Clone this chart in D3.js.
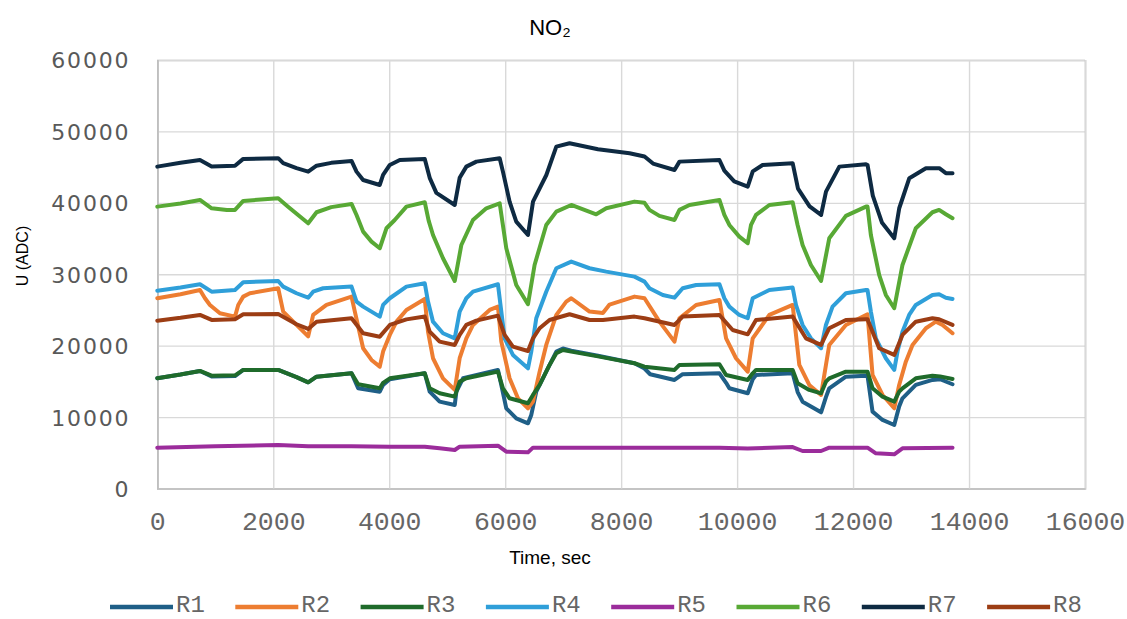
<!DOCTYPE html>
<html><head><meta charset="utf-8">
<script src="https://cdn.jsdelivr.net/npm/d3@7"></script>
<style>html,body{margin:0;padding:0;background:#fff;}svg{display:block;}</style>
</head><body>
<svg id="chart" width="1127" height="619"></svg>
<script>
// ---- data (time in s, value in ADC) ----
const seriesNames = ["R1","R2","R3","R4","R5","R6","R7","R8"];
const xTicks = [0,2000,4000,6000,8000,10000,12000,14000,16000];
const yTicks = [0,10000,20000,30000,40000,50000,60000];

const r1 = [[0,15430],[400,15950],[736,16460],[937,15700],[1340,15750],[1482,16600],[2085,16600],[2401,15600],[2602,14870],[2747,15660],[3350,16130],[3464,14030],[3837,13560],[3894,14500],[4010,15300],[4613,16130],[4698,13560],[4870,12160],[5130,11700],[5158,13560],[5273,15430],[5875,16600],[5933,14500],[6019,11230],[6191,9830],[6393,9130],[6450,10300],[6536,13560],[6708,16360],[6882,19170],[6996,19600],[7140,19300],[7600,18600],[8230,17540],[8403,16800],[8500,16000],[8920,15200],[9061,16000],[9695,16130],[9810,14800],[9866,14030],[10183,13330],[10269,15300],[10326,15900],[10958,16130],[11044,13500],[11129,12160],[11448,10670],[11532,12800],[11589,14030],[11876,15660],[12223,15800],[12249,15800],[12336,10760],[12508,9600],[12710,8890],[12795,11500],[12852,12630],[13082,14500],[13369,15200],[13500,15300],[13715,14600]];
const r2 = [[0,26640],[400,27200],[736,27800],[822,26640],[908,25700],[1080,24540],[1340,24070],[1396,25700],[1482,26870],[1597,27340],[2085,28040],[2171,24770],[2401,22900],[2602,21300],[2688,24300],[2918,25700],[3350,26870],[3407,24770],[3550,19640],[3694,18000],[3837,17060],[3894,19170],[4010,21500],[4125,23360],[4297,25000],[4613,26540],[4669,21960],[4755,18240],[4927,15430],[5130,13800],[5215,18240],[5330,21030],[5445,22900],[5732,25000],[5875,25470],[5933,20560],[6076,15430],[6220,12630],[6393,11230],[6479,12160],[6594,16360],[6708,20100],[6882,24300],[7053,26170],[7140,26640],[7455,24770],[7685,24560],[7800,25760],[8230,26870],[8403,26640],[8660,23360],[8920,20560],[9006,23840],[9293,25700],[9695,26400],[9810,21030],[9981,18240],[10183,16360],[10269,21030],[10556,24300],[10958,25700],[11073,17300],[11244,14500],[11448,13100],[11532,17300],[11589,20100],[11876,22900],[12223,24300],[12249,24400],[12336,15900],[12508,13100],[12710,11230],[12795,14500],[12910,17760],[13025,20100],[13256,22440],[13428,23360],[13543,22900],[13715,21740]];
const r3 = [[0,15430],[400,15950],[736,16460],[937,15800],[1340,15850],[1482,16600],[2085,16600],[2401,15600],[2602,14870],[2747,15660],[3350,16130],[3464,14600],[3837,14030],[3894,14800],[4010,15430],[4613,16130],[4698,14030],[4870,13330],[5130,12860],[5215,14960],[5330,15430],[5875,16360],[5961,14030],[6076,12630],[6393,11930],[6479,13100],[6594,14500],[6765,17300],[6882,18940],[6996,19400],[7140,19170],[7600,18500],[8230,17540],[8403,17060],[8920,16600],[9006,17300],[9695,17400],[9810,15900],[10183,15200],[10269,16130],[10326,16600],[10958,16600],[11044,14730],[11244,13800],[11448,13330],[11532,14960],[11589,15430],[11876,16360],[12223,16360],[12249,16360],[12336,14030],[12508,12860],[12710,12160],[12795,13560],[12852,14030],[13082,15430],[13369,15800],[13500,15700],[13715,15340]];
const r4 = [[0,27700],[400,28150],[736,28600],[937,27560],[1340,27800],[1482,28880],[2085,29060],[2171,28270],[2401,27340],[2602,26720],[2688,27560],[2860,28040],[3350,28270],[3436,26170],[3550,25470],[3837,24070],[3894,25700],[4010,26640],[4297,28270],[4613,28740],[4669,26170],[4755,23360],[4927,21740],[5130,21030],[5215,24770],[5330,26640],[5445,27560],[5875,28600],[5933,24770],[5990,21030],[6133,18700],[6393,16830],[6450,19170],[6536,23840],[6708,27560],[6882,30840],[7140,31770],[7455,30840],[7742,30370],[8230,29670],[8403,28970],[8488,28040],[8718,27100],[8920,26720],[9061,28040],[9293,28500],[9695,28600],[9780,26640],[9866,25470],[10038,24300],[10183,23840],[10269,26640],[10556,27800],[10958,28130],[11015,25700],[11129,22900],[11273,21030],[11448,19640],[11532,22900],[11646,25470],[11876,27340],[12223,27800],[12249,27800],[12307,24770],[12393,21030],[12565,18240],[12710,16600],[12766,19170],[12852,21960],[12967,24300],[13082,25700],[13369,27100],[13484,27200],[13600,26720],[13715,26540]];
const r5 = [[0,5720],[1000,5900],[2085,6090],[2602,5900],[3350,5900],[4010,5860],[4613,5860],[4870,5650],[5130,5390],[5215,5860],[5875,5990],[6019,5160],[6393,5060],[6479,5720],[8230,5720],[9695,5720],[10183,5600],[10958,5800],[11129,5250],[11448,5250],[11589,5720],[12249,5720],[12393,4930],[12710,4790],[12852,5620],[13715,5720]];
const r6 = [[0,39470],[400,39900],[736,40400],[937,39240],[1200,39000],[1340,39010],[1482,40270],[2085,40640],[2250,39500],[2602,37140],[2747,38680],[3000,39400],[3350,39850],[3436,38300],[3550,35970],[3694,34570],[3837,33640],[3952,36440],[4095,37600],[4297,39470],[4613,40080],[4680,37500],[4755,35500],[4927,32240],[5130,29060],[5244,34100],[5444,37600],[5675,39240],[5905,39940],[6019,33640],[6191,28500],[6393,25800],[6507,31300],[6708,36900],[6882,38770],[7140,39700],[7570,38400],[7743,39240],[8230,40170],[8403,40000],[8488,39010],[8660,38170],[8920,37600],[9006,39010],[9178,39700],[9695,40400],[9780,38300],[9866,36900],[10038,35270],[10183,34340],[10240,36900],[10326,38300],[10556,39700],[10958,40080],[11043,36900],[11129,34100],[11273,31300],[11448,29060],[11589,35040],[11876,38170],[12223,39470],[12249,39470],[12307,35500],[12450,29900],[12565,27100],[12710,25240],[12852,31300],[13082,36440],[13369,38680],[13484,39010],[13600,38400],[13715,37840]];
const r7 = [[0,45070],[400,45600],[736,46000],[937,45100],[1340,45200],[1482,46150],[2085,46250],[2171,45550],[2401,44850],[2602,44370],[2747,45200],[3000,45600],[3350,45870],[3436,44370],[3550,43200],[3837,42500],[3894,43900],[4010,45300],[4182,46000],[4613,46150],[4698,43500],[4813,41400],[5130,39700],[5215,43500],[5330,45070],[5503,45770],[5905,46250],[5961,44370],[6076,40170],[6191,37370],[6393,35500],[6480,40170],[6710,43900],[6882,47870],[7110,48350],[7600,47500],[8145,46950],[8403,46480],[8550,45500],[8920,44600],[9006,45770],[9695,46000],[9780,44500],[9950,43000],[10183,42270],[10270,44400],[10440,45300],[10958,45550],[11050,42000],[11250,39500],[11448,38300],[11533,41570],[11763,45070],[12223,45400],[12250,45300],[12340,41000],[12500,37200],[12710,35040],[12796,39240],[12970,43450],[13256,44850],[13486,44850],[13600,44150],[13715,44150]];
const r8 = [[0,23500],[400,23900],[736,24300],[937,23600],[1340,23700],[1482,24400],[2085,24440],[2401,23000],[2602,22340],[2747,23360],[3350,23840],[3550,21740],[3837,21260],[4010,22900],[4297,23680],[4613,24070],[4698,21960],[4870,20560],[5130,20100],[5215,21500],[5330,22900],[5503,23500],[5875,24200],[5990,21500],[6133,19860],[6393,19260],[6479,21030],[6594,22440],[6765,23600],[7110,24400],[7455,23600],[7685,23600],[8230,24070],[8403,23840],[8920,22900],[9061,24070],[9695,24300],[9923,22200],[10183,21590],[10326,23600],[10958,24070],[11187,21030],[11448,20100],[11589,22440],[11876,23600],[12223,23700],[12249,23700],[12450,19640],[12710,18700],[12852,21500],[13082,23360],[13369,23840],[13484,23700],[13715,22900]];

const seriesData = [r1,r2,r3,r4,r5,r6,r7,r8];
const colors = ["#1f5f87","#ed7d31","#1f6b2b","#2f9fd9","#9b2c9b","#58a935","#0e2a42","#9c3d14"];

// ---- drawing ----
const svg = d3.select("#chart");
const x = d3.scaleLinear().domain([0,16000]).range([157.3,1085]);
const y = d3.scaleLinear().domain([0,60000]).range([488.5,60]);
const plotW = x.range()[1]-x.range()[0];
const plotH = y.range()[0]-y.range()[1];

// gridlines + x axis
const gx = svg.append("g").attr("transform",`translate(0,${y(0)})`)
  .call(d3.axisBottom(x).tickValues(xTicks).tickSize(-plotH).tickFormat(d3.format("d")));
gx.select(".domain").attr("stroke","#bfbfbf").attr("stroke-width",1.6);
gx.selectAll(".tick line").attr("stroke","#d9d9d9").attr("stroke-width",1.4);
gx.selectAll(".tick text").attr("y",41.5).attr("dy",0)
  .attr("font-family","'Liberation Mono', monospace").attr("font-size",26.5)
  .attr("fill","#666666");

const gy = svg.append("g").attr("transform",`translate(${x(0)},0)`)
  .call(d3.axisLeft(y).tickValues(yTicks).tickSize(-plotW).tickFormat(d3.format("d")));
gy.select(".domain").attr("stroke","#bfbfbf").attr("stroke-width",1.6);
gy.selectAll(".tick line").attr("stroke","#d9d9d9").attr("stroke-width",1.4);
gy.selectAll(".tick text").attr("x",-27).attr("dy","0.36em")
  .attr("font-family","'DejaVu Sans', sans-serif").attr("font-size",22)
  .attr("letter-spacing","1.8px").attr("fill","#595959");
gx.raise();
gx.selectAll(".tick line").filter(d=>d===0).attr("stroke","#bfbfbf");

// lines
const line = d3.line().x(d=>x(d[0])).y(d=>y(d[1])).curve(d3.curveLinear);
const gl = svg.append("g");
seriesData.forEach((s,i)=>{
  gl.append("path").datum(s).attr("d",line).attr("fill","none")
    .attr("stroke",colors[i]).attr("stroke-width",4)
    .attr("stroke-linejoin","round").attr("stroke-linecap","round");
});

// title
svg.append("text").attr("x",550).attr("y",35).attr("text-anchor","middle")
  .attr("font-family","'Liberation Sans', Arial, sans-serif").attr("font-size",22)
  .attr("fill","#000").text("NO₂");

// axis titles
svg.append("text").attr("x",550).attr("y",564).attr("text-anchor","middle")
  .attr("font-family","'Liberation Sans', Arial, sans-serif").attr("font-size",19)
  .attr("fill","#000").text("Time, sec");
svg.append("text").attr("transform","translate(28,256) rotate(-90)").attr("text-anchor","middle")
  .attr("font-family","'Liberation Sans', Arial, sans-serif").attr("font-size",16)
  .attr("fill","#000").text("U (ADC)");

// legend
const lg = svg.append("g");
seriesNames.forEach((n,i)=>{
  const x0 = 110 + i*125.3;
  lg.append("line").attr("x1",x0).attr("x2",x0+63).attr("y1",607).attr("y2",607)
    .attr("stroke",colors[i]).attr("stroke-width",4.5);
  lg.append("text").attr("x",x0+66).attr("y",611.5)
    .attr("font-family","'Liberation Mono', monospace").attr("font-size",24)
    .attr("fill","#666666").text(n);
});
</script>
</body></html>
